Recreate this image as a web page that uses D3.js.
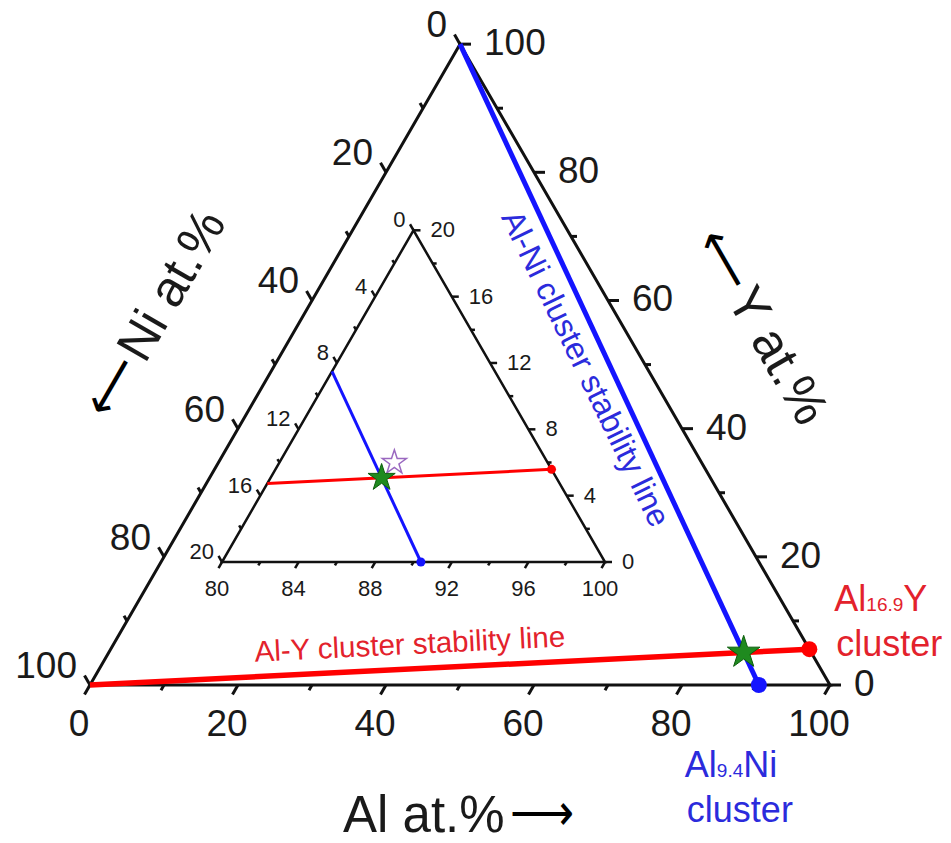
<!DOCTYPE html>
<html>
<head>
<meta charset="utf-8">
<script src="https://cdn.jsdelivr.net/npm/d3@7"></script>
<style>
  html, body { margin: 0; padding: 0; background: #fff; }
  svg { display: block; }
  text { font-family: "Liberation Sans", Arial, Helvetica, sans-serif; }
</style>
</head>
<body>
<svg id="chart" width="951" height="843"></svg>
<script>
// Tick values (at.%)
const outerMajor = [0, 20, 40, 60, 80, 100];
const outerMinor = [10, 30, 50, 70, 90];
const innerMajor = [0, 4, 8, 12, 16, 20];
const innerMinor = [2, 6, 10, 14, 18];
const innerAlMajor = [80, 84, 88, 92, 96, 100];
const innerAlMinor = [82, 86, 90, 94, 98];

// Cluster stoichiometries: Al(n)Y and Al(n)Ni
const clusterNames = ["Al16.9Y", "Al9.4Ni"];
const clusterRatios = [16.9, 9.4];
// Reference alloy composition (at.%)
const alloyAl = 86, alloyNi = 8, alloyY = 6;

const alYCluster = { Al: 100 * clusterRatios[0] / (clusterRatios[0] + 1), Y: 100 / (clusterRatios[0] + 1) };
const alNiCluster = { Al: 100 * clusterRatios[1] / (clusterRatios[1] + 1), Y: 0 };
// Crossing of both stability lines: Al/Y = 16.9 and Al/Ni = 9.4
const crossAl = 100 / (1 + 1 / clusterRatios[0] + 1 / clusterRatios[1]);
const crossing = { Al: crossAl, Y: crossAl / clusterRatios[0] };

const svg = d3.select("#chart");
svg.append("rect").attr("width", 951).attr("height", 843).attr("fill", "#fff");

// Ternary frame: Al to the bottom-right corner, Y to the top, Ni to the bottom-left
function makeTri(x0, side, yBase, alMin, span) {
  const h = side * Math.sqrt(3) / 2;
  const x = d3.scaleLinear().domain([0, 1]).range([x0, x0 + side]);
  const y = d3.scaleLinear().domain([0, 1]).range([yBase, yBase - h]);
  return {
    alMin, span,
    p(c) {
      const fa = (c.Al - alMin) / span, fy = c.Y / span;
      return [x(fa + fy / 2), y(fy)];
    }
  };
}

const outer = makeTri(90, 740, 685, 0, 100);
const inner = makeTri(222, 383, 562, 80, 20);

const line = d3.line();
const S3 = Math.sqrt(3) / 2;

function drawTri(tri, o) {
  const g = svg.append("g");
  const a0 = tri.alMin, sp = tri.span;
  const corners = [{ Al: a0, Y: 0 }, { Al: a0 + sp, Y: 0 }, { Al: a0, Y: sp }].map(c => tri.p(c));
  g.append("path").attr("d", line(corners) + "Z")
    .attr("fill", "none").attr("stroke", "#111").attr("stroke-width", o.sw).attr("stroke-linejoin", "miter");

  const tick = (pt, dir, len) => g.append("path")
    .attr("d", line([pt, [pt[0] + dir[0] * len, pt[1] + dir[1] * len]]))
    .attr("stroke", "#111").attr("stroke-width", o.sw);

  const dBottom = [-0.5, S3], dRight = [1, 0], dLeft = [-0.5, -S3];

  // Al axis (bottom)
  o.alMajor.forEach(v => {
    const pt = tri.p({ Al: v, Y: 0 });
    tick(pt, dBottom, o.major);
    g.append("text").attr("x", pt[0] + o.bOff[0]).attr("y", pt[1] + o.bOff[1])
      .attr("text-anchor", "middle").attr("font-size", o.fs).attr("fill", "#1a1a1a").text(v);
  });
  o.alMinor.forEach(v => tick(tri.p({ Al: v, Y: 0 }), dBottom, o.minor));

  // Y axis (right)
  o.major_.forEach(v => {
    const pt = tri.p({ Al: a0 + sp - v, Y: v });
    tick(pt, dRight, o.major);
    g.append("text").attr("x", pt[0] + o.rOff[0]).attr("y", pt[1] + o.rOff[1])
      .attr("text-anchor", "start").attr("font-size", o.fs).attr("fill", "#1a1a1a").text(v);
  });
  o.minor_.forEach(v => tick(tri.p({ Al: a0 + sp - v, Y: v }), dRight, o.minor));

  // Ni axis (left)
  o.major_.forEach(v => {
    const pt = tri.p({ Al: a0, Y: sp - v });
    tick(pt, dLeft, o.major);
    g.append("text").attr("x", pt[0] + o.lOff[0]).attr("y", pt[1] + o.lOff[1])
      .attr("text-anchor", "end").attr("font-size", o.fs).attr("fill", "#1a1a1a").text(v);
  });
  o.minor_.forEach(v => tick(tri.p({ Al: a0, Y: sp - v }), dLeft, o.minor));
}

drawTri(outer, {
  sw: 3, major: 11, minor: 6, fs: 37,
  alMajor: outerMajor, alMinor: outerMinor, major_: outerMajor, minor_: outerMinor,
  bOff: [-11, 51], rOff: [24, 11], lOff: [-13, -7]
});
drawTri(inner, {
  sw: 2.5, major: 7, minor: 4, fs: 22,
  alMajor: innerAlMajor, alMinor: innerAlMinor, major_: innerMajor, minor_: innerMinor,
  bOff: [-5, 34], rOff: [17, 7], lOff: [-8, -3]
});

const RED = "#ff0000", BLUE = "#1414ff";
const RED_TXT = "#e3222c", BLUE_TXT = "#2b2bdc";

// Outer stability lines
const niCorner = { Al: 0, Y: 0 }, yCorner = { Al: 0, Y: 100 };
svg.append("path").attr("d", line([outer.p(yCorner), outer.p(alNiCluster)]))
  .attr("stroke", BLUE).attr("stroke-width", 5).attr("fill", "none");
svg.append("path").attr("d", line([outer.p(niCorner), outer.p(alYCluster)]))
  .attr("stroke", RED).attr("stroke-width", 5.5).attr("fill", "none");

// Inner stability lines, cut at the Al = 80 edge
const innerRedStart = { Al: 80, Y: 80 / clusterRatios[0] };
const innerBlueStart = { Al: 80, Y: 20 - 80 / clusterRatios[1] };
svg.append("path").attr("d", line([inner.p(innerBlueStart), inner.p(alNiCluster)]))
  .attr("stroke", BLUE).attr("stroke-width", 3).attr("fill", "none");
svg.append("path").attr("d", line([inner.p(innerRedStart), inner.p(alYCluster)]))
  .attr("stroke", RED).attr("stroke-width", 3).attr("fill", "none");

// Cluster end points
const dot = (pt, r, c) => svg.append("circle").attr("cx", pt[0]).attr("cy", pt[1]).attr("r", r).attr("fill", c);
dot(outer.p(alYCluster), 8, RED);
dot(outer.p(alNiCluster), 8, BLUE);
dot(inner.p(alYCluster), 4.5, RED);
dot(inner.p(alNiCluster), 4.5, BLUE);

// Stars
const star = (pt, size, fill, stroke, sw) => svg.append("path")
  .attr("d", d3.symbol(d3.symbolStar, size)())
  .attr("transform", `translate(${pt[0]},${pt[1]})`)
  .attr("fill", fill).attr("stroke", stroke).attr("stroke-width", sw);
star(inner.p({ Al: alloyAl, Y: alloyY }), 180, "none", "#9a68c0", 1.5);
star(inner.p(crossing), 230, "#1f8a1f", "#0d5e0d", 1);
star(outer.p(crossing), 330, "#1f8a1f", "#0d5e0d", 1);

// Line annotations
const pTop = outer.p(yCorner), pBlue = outer.p(alNiCluster);
const blueAngle = Math.atan2(pBlue[1] - pTop[1], pBlue[0] - pTop[0]) * 180 / Math.PI;
const blueAnchor = outer.p({ Al: alNiCluster.Al * 0.27, Y: 100 * (1 - 0.27) });
svg.append("text")
  .attr("transform", `translate(${blueAnchor[0] - 40},${blueAnchor[1]}) rotate(${blueAngle - 0.8})`)
  .attr("font-size", 32).attr("fill", BLUE_TXT).text("Al-Ni cluster stability line");

const pNi = outer.p(niCorner), pRed = outer.p(alYCluster);
const redAngle = Math.atan2(pRed[1] - pNi[1], pRed[0] - pNi[0]) * 180 / Math.PI;
const redAnchor = outer.p({ Al: alYCluster.Al * 0.2294, Y: alYCluster.Y * 0.2294 });
svg.append("text")
  .attr("transform", `translate(${redAnchor[0]},${redAnchor[1] - 15}) rotate(${redAngle})`)
  .attr("font-size", 29.5).attr("fill", RED_TXT).text("Al-Y cluster stability line");

// Cluster labels
function clusterLabel(pt, dx, dy, sub, tail, color) {
  const t = svg.append("text").attr("x", pt[0] + dx).attr("y", pt[1] + dy)
    .attr("font-size", 36).attr("fill", color);
  t.append("tspan").text("Al");
  t.append("tspan").attr("font-size", 19).text(sub);
  t.append("tspan").text(tail);
  svg.append("text").attr("x", pt[0] + dx + 2).attr("y", pt[1] + dy + 45)
    .attr("font-size", 36).attr("fill", color).text("cluster");
}
clusterLabel(outer.p(alYCluster), 25, -38, "16.9", "Y", RED_TXT);
clusterLabel(outer.p(alNiCluster), -74, 92, "9.4", "Ni", BLUE_TXT);

// Axis titles with arrows pointing to increasing content
function axisTitle(x, y, angle, label, arrow, arrowFirst) {
  const g = svg.append("g").attr("transform", `translate(${x},${y}) rotate(${angle})`);
  const fs = 51;
  if (arrowFirst) {
    g.append("text").attr("x", 0).attr("y", -2).attr("font-size", fs)
      .attr("font-family", "DejaVu Sans").attr("textLength", 62).attr("lengthAdjust", "spacingAndGlyphs")
      .text(arrow);
    g.append("text").attr("x", 66).attr("y", 0).attr("font-size", fs).attr("fill", "#1a1a1a").text(label);
  } else {
    const t = g.append("text").attr("x", 0).attr("y", 0).attr("font-size", fs).attr("fill", "#1a1a1a").text(label);
    const w = t.node().getComputedTextLength();
    g.append("text").attr("x", w + 5).attr("y", -2).attr("font-size", fs)
      .attr("font-family", "DejaVu Sans").attr("textLength", 64).attr("lengthAdjust", "spacingAndGlyphs")
      .text(arrow);
  }
}
axisTitle(343, 832, 0, "Al at.%", "\u27F6", false);
axisTitle(112, 422, -60, "Ni at.%", "\u27F5", true);
axisTitle(693, 242, 60, "Y at.%", "\u27F5", true);
</script>
</body>
</html>
